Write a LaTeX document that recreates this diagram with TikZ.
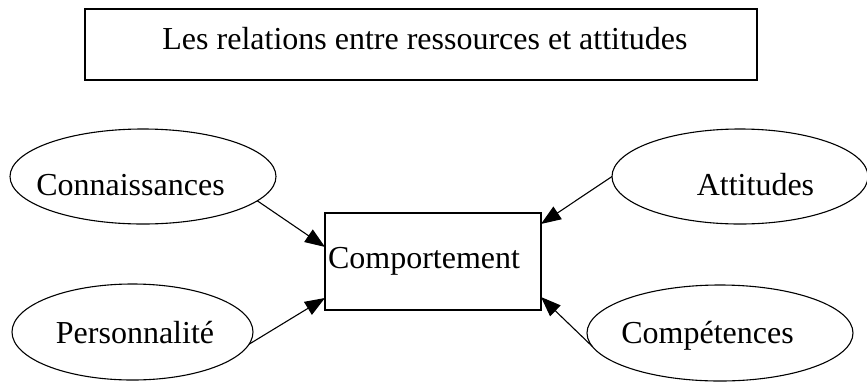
\documentclass[tikz,border=0pt]{standalone}
\usepackage{fontspec}
\setmainfont{Liberation Serif}
\usetikzlibrary{arrows.meta,calc,shapes.geometric}
\begin{document}
\begin{tikzpicture}[x=1bp,y=-1bp,
  font=\fontsize{32bp}{38bp}\selectfont,
  ell/.style={draw,ellipse,line width=1.1bp,inner sep=0pt,outer sep=0pt},
  boxstyle/.style={draw,rectangle,line width=1.5bp,inner sep=0pt,outer sep=0pt},
  txt/.style={anchor=base,inner sep=0pt},
  arr/.style={line width=1.1bp,-{Triangle[length=20bp,width=15bp]}}]
\useasboundingbox (0,0) rectangle (867,381);
% title
\node[boxstyle,minimum width=672bp,minimum height=71bp] (title) at (421,44.5) {};
\node[txt] (titletxt) at (425,49) {Les relations entre ressources et attitudes};
% central box
\node[boxstyle,minimum width=216bp,minimum height=97bp] (comp) at (433,261.5) {};
\node[txt] (comptxt) at (424,268) {Comportement};
% ellipses
\node[ell,minimum width=266bp,minimum height=95bp] (conn) at (143,176.5) {};
\node[txt] (conntxt) at (130.5,195) {Connaissances};
\node[ell,minimum width=241bp,minimum height=96bp] (pers) at (132.5,332) {};
\node[txt] (perstxt) at (135,343) {Personnalité};
\node[ell,minimum width=256bp,minimum height=95bp] (att) at (740,176.5) {};
\node[txt] (atttxt) at (755.5,195) {Attitudes};
\node[ell,minimum width=266bp,minimum height=96bp] (cpt) at (720,333) {};
\node[txt] (cpttxt) at (707.5,343) {Compétences};
% arrows
\draw[arr] (conn.-12.3) -- ($(comp.north west)!0.35!(comp.south west)$);
\draw[arr] (pers.-6.2) -- ($(comp.north west)!0.876!(comp.south west)$);
\draw[arr] (att.180) -- ($(comp.north east)!0.113!(comp.south east)$);
\draw[arr] (cpt.-174.8) -- ($(comp.north east)!0.866!(comp.south east)$);
\end{tikzpicture}
\end{document}
